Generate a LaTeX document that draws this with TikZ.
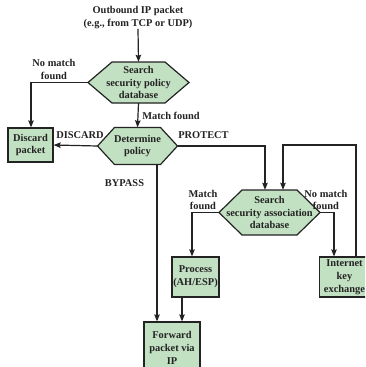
\documentclass[tikz,border=0pt]{standalone}
\usepackage{fontspec}
\setmainfont{Liberation Serif}
\usetikzlibrary{arrows.meta}
\definecolor{boxfill}{RGB}{194,224,194}
\definecolor{ink}{RGB}{35,35,35}
\newcommand\hexa[5]{%
  \filldraw[shapeline] (#1-#3,#2) -- (#1-#3+#5,#2-#4) -- (#1+#3-#5,#2-#4) -- (#1+#3,#2)
    -- (#1+#3-#5,#2+#4) -- (#1-#3+#5,#2+#4) -- cycle;}
\begin{document}
\begin{tikzpicture}[x=1pt,y=-1pt,
  lbl/.style={font=\bfseries\fontsize{10.4}{12.8}\selectfont, align=center, inner sep=0pt, text=ink},
  shapeline/.style={draw=ink, fill=boxfill, line width=1.2pt, line join=miter},
  boxn/.style={lbl, shapeline},
  hexn/.style={lbl},
  conn/.style={draw=ink, line width=1.2pt, line join=miter},
  arr/.style={conn, -{Stealth[length=7pt,width=5.5pt,inset=1pt]}}]
\useasboundingbox (0,0) rectangle (365,367);
\clip (0,0) rectangle (365,367);
\fill[white] (0,0) rectangle (365,367);

% hexagons
\hexa{138.5}{82.5}{50.5}{20.5}{24}
\node[hexn, minimum width=101, minimum height=41] (sp) at (138.5,82.5) {Search\\security policy\\database};
\hexa{137.5}{146}{40}{18.5}{17}
\node[hexn, minimum width=80, minimum height=37] (dp) at (137.5,146) {Determine\\policy};
\hexa{269.5}{212.5}{50.5}{22.5}{23}
\node[hexn, minimum width=101, minimum height=45] (sa) at (269.5,212.5) {Search\\security association\\database};

% boxes
\node[boxn, minimum width=45, minimum height=34] (dc) at (30.5,145) {Discard\\packet};
\node[boxn, minimum width=47, minimum height=40] (pr) at (195.5,277) {Process\\(AH/ESP)};
\node[boxn, minimum width=56, minimum height=52] (fw) at (172,348) {Forward\\packet via\\IP};
\node[boxn, minimum width=50, minimum height=40] (ike) at (344.5,277) {Internet\\key\\exchange};

% labels
\node[lbl] (in) at (138,17.5) {Outbound IP packet\\(e.g., from TCP or UDP)};
\node[lbl] (l1) at (54,69.5) {No match\\found};
\node[lbl] (l2) at (171,116) {Match found};
\node[lbl] (l3) at (80,135) {DISCARD};
\node[lbl] (l4) at (203.5,135) {PROTECT};
\node[lbl] (l5) at (124.5,183) {BYPASS};
\node[lbl] (l6) at (203,200) {Match\\found};
\node[lbl] (l7) at (326,200) {No match\\found};

% connectors
\coordinate (j1) at (31,82.5);
\coordinate (j2) at (265,146);
\coordinate (j3) at (192,212.5);
\coordinate (j4) at (334,212.5);
\coordinate (j5) at (356,145);
\coordinate (j6) at (283,145);

\draw[arr] (in.south) -- (sp.north);
\draw[arr] (sp.west) -- (j1) -- (j1 |- dc.north);
\draw[arr] (sp.south) -- (dp.north);
\draw[arr] (dp.west) -- (dc.east);
\draw[arr] (dp.east) -- (j2) -- (j2 |- sa.north);
\draw[arr] (dp.south -| 157,0) -- (157,0 |- fw.north);
\draw[arr] (sa.west) -- (j3) -- (j3 |- pr.north);
\draw[arr] (sa.east) -- (j4) -- (j4 |- ike.north);
\draw[arr] (j5 |- ike.north) -- (j5) -- (j6) -- (j6 |- sa.north);
\draw[arr] (pr.south -| 182,0) -- (182,0 |- fw.north);
\end{tikzpicture}
\end{document}
